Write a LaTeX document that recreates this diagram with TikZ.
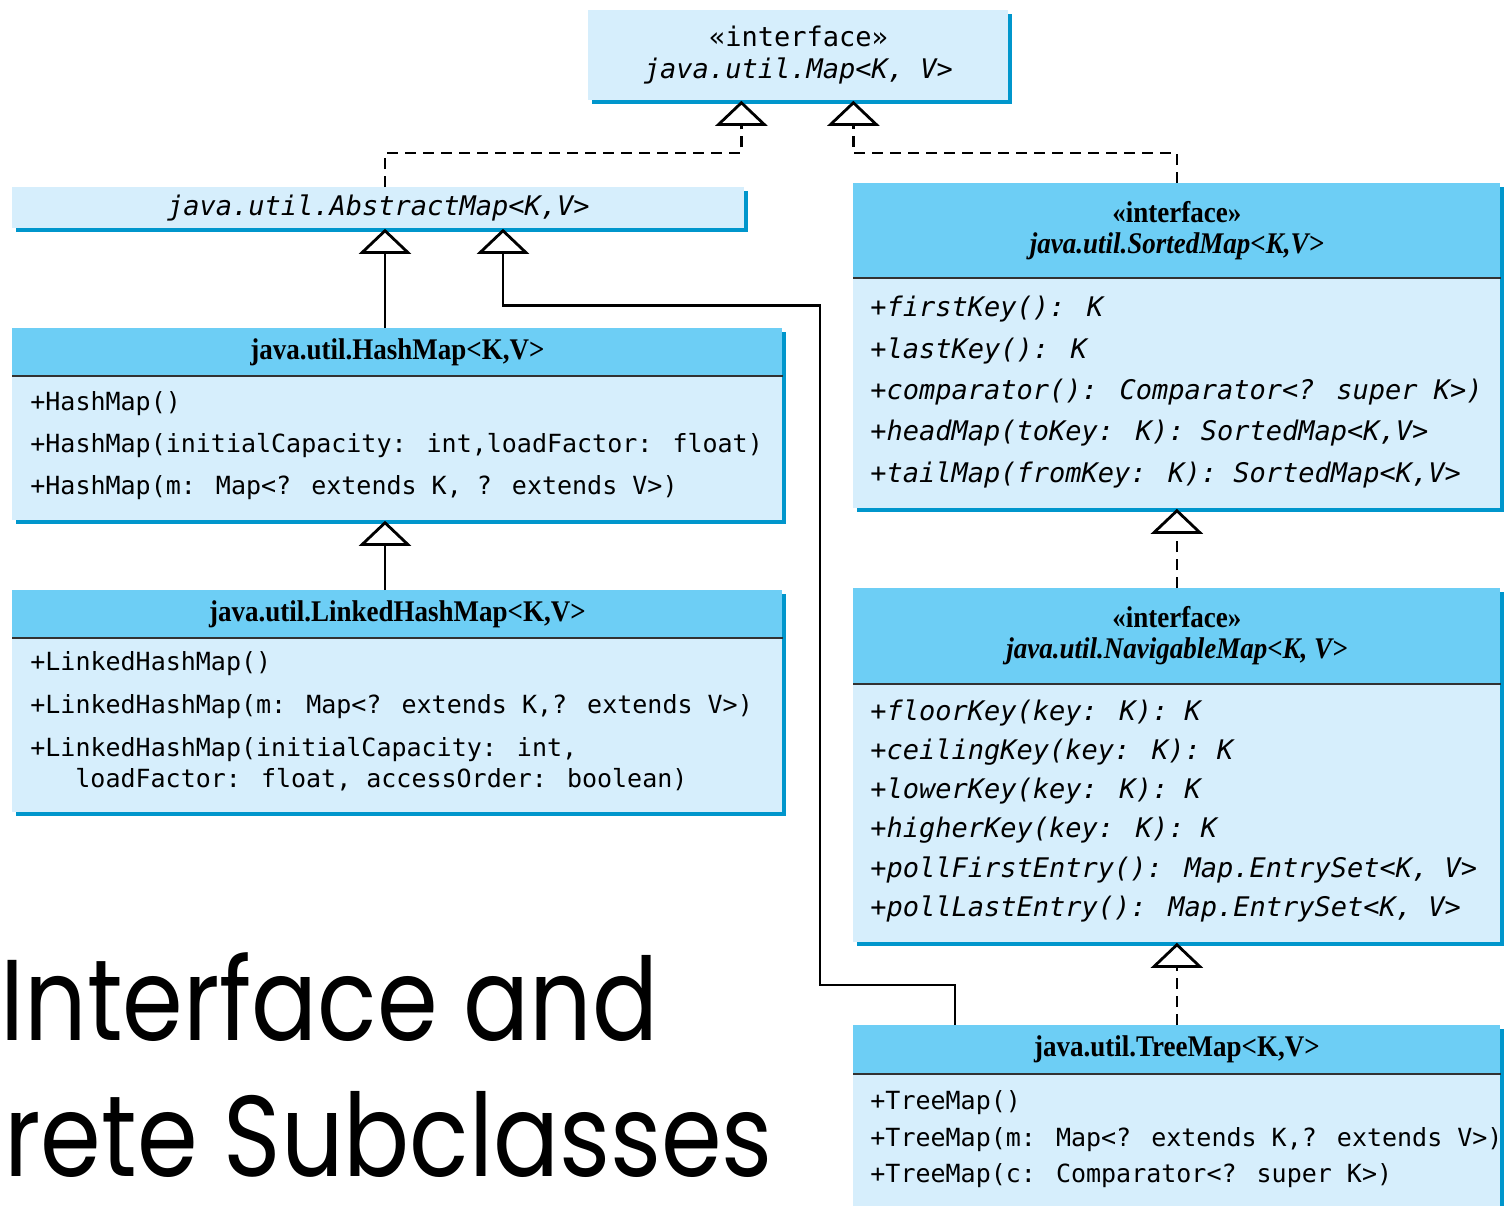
\documentclass[tikz,border=0pt]{standalone}
\usepackage{fontspec}
\setmainfont{Liberation Serif}
\newfontfamily\codefont{DejaVu Sans Mono}
\newfontfamily\headfont[FakeStretch=0.9]{Liberation Serif}
\newfontfamily\titlefont[FakeStretch=0.85]{Poppins}
\usetikzlibrary{arrows.meta,calc,shadows}
\definecolor{bodyblue}{RGB}{214,238,252}
\definecolor{headblue}{RGB}{109,206,245}
\definecolor{edgeblue}{RGB}{0,150,204}
\definecolor{rulegray}{RGB}{50,50,50}

\begin{document}
\begin{tikzpicture}[x=0.5pt,y=-0.5pt,
    classbox/.style={fill=bodyblue,anchor=north west,inner sep=0pt,
        drop shadow={shadow xshift=1.6pt,shadow yshift=-1.6pt,fill=edgeblue,opacity=1}},
    headbox/.style={fill=headblue,anchor=north west,inner sep=0pt,align=center,
        font=\headfont\bfseries\fontsize{15}{15.5}\selectfont},
    divider/.style={draw=rulegray,line width=0.7pt},
    member/.style={anchor=west,inner sep=0pt,font=\codefont\fontsize{12.5}{15}\selectfont},
    imember/.style={anchor=west,inner sep=0pt,font=\codefont\itshape\fontsize{13.5}{16}\selectfont},
    titletext/.style={anchor=base west,inner sep=0pt,text depth=0pt,
        font=\titlefont\fontsize{57.5}{60}\selectfont},
    extend/.style={line width=1.4pt,-{Triangle[open,width=26pt,length=12.5pt]}},
    implement/.style={extend,dash pattern=on 5.5pt off 3.5pt}]
    \useasboundingbox[fill=white] (0,0) rectangle (1504,1205);

    \node[classbox,minimum width=210pt,minimum height=45pt,align=center,
        font=\codefont\fontsize{13.5}{16}\selectfont] (map) at (588,10)
        {«interface»\\\textit{java.util.Map<K, V>}};

    \node[classbox,minimum width=366pt,minimum height=20.5pt,
        font=\codefont\itshape\fontsize{13.5}{16}\selectfont] (abstract) at (12,187)
        {java.util.AbstractMap<K,V>};

    \node[classbox,minimum width=385pt,minimum height=96pt] (hash) at (12,328) {};
    \node[headbox,minimum width=385pt,minimum height=23.5pt] (hashhead) at (hash.north west)
        {java.util.HashMap<K,V>};
    \draw[divider] (hashhead.south west) -- (hashhead.south east);
    \foreach \t [count=\i] in {{+HashMap()},
            {+HashMap(initialCapacity: int,loadFactor: float)},
            {+HashMap(m: Map<? extends K, ? extends V>)}}
        \node[member] (hm\i) at (30,{404+42*(\i-1)}) {\t};

    \node[classbox,minimum width=385pt,minimum height=111pt] (linked) at (12,590) {};
    \node[headbox,minimum width=385pt,minimum height=23.5pt] (linkedhead) at (linked.north west)
        {java.util.LinkedHashMap<K,V>};
    \draw[divider] (linkedhead.south west) -- (linkedhead.south east);
    \foreach \t [count=\i] in {{+LinkedHashMap()},
            {+LinkedHashMap(m: Map<? extends K,? extends V>)},
            {+LinkedHashMap(initialCapacity: int,}}
        \node[member] (lm\i) at (30,{664+43*(\i-1)}) {\t};
    \node[member] (lm4) at (75,780) {loadFactor: float, accessOrder: boolean)};

    \node[classbox,minimum width=323.5pt,minimum height=162.5pt] (sorted) at (853,183) {};
    \node[headbox,minimum width=323.5pt,minimum height=47pt] (sortedhead) at (sorted.north west)
        {«interface»\\\textit{java.util.SortedMap<K,V>}};
    \draw[divider] (sortedhead.south west) -- (sortedhead.south east);
    \foreach \t [count=\i] in {{+firstKey(): K},{+lastKey(): K},
            {+comparator(): Comparator<? super K>)},
            {+headMap(toKey: K): SortedMap<K,V>},
            {+tailMap(fromKey: K): SortedMap<K,V>}}
        \node[imember] (sm\i) at (870,{309+41.5*(\i-1)}) {\t};

    \node[classbox,minimum width=323.5pt,minimum height=177pt] (nav) at (853,588) {};
    \node[headbox,minimum width=323.5pt,minimum height=47.5pt] (navhead) at (nav.north west)
        {«interface»\\\textit{java.util.NavigableMap<K, V>}};
    \draw[divider] (navhead.south west) -- (navhead.south east);
    \foreach \t [count=\i] in {{+floorKey(key: K): K},{+ceilingKey(key: K): K},
            {+lowerKey(key: K): K},{+higherKey(key: K): K},
            {+pollFirstEntry(): Map.EntrySet<K, V>},
            {+pollLastEntry(): Map.EntrySet<K, V>}}
        \node[imember] (nm\i) at (870,{713+39.2*(\i-1)}) {\t};

    \node[classbox,minimum width=323.5pt,minimum height=100pt] (tree) at (853,1025) {};
    \node[headbox,minimum width=323.5pt,minimum height=24pt] (treehead) at (tree.north west)
        {java.util.TreeMap<K,V>};
    \draw[divider] (treehead.south west) -- (treehead.south east);
    \foreach \t [count=\i] in {{+TreeMap()},
            {+TreeMap(m: Map<? extends K,? extends V>)},
            {+TreeMap(c: Comparator<? super K>)}}
        \node[member] (tm\i) at (870,{1103+36.5*(\i-1)}) {\t};

    \node[titletext] (title1) at (0,1040) {Interface and};
    \node[titletext] (title2) at (4,1176) {rete Subclasses};

    \coordinate (mapL) at ($(map.south)+(-57,0)$);
    \coordinate (mapR) at ($(map.south)+(55,0)$);
    \coordinate (absL) at ($(abstract.south west)+(373,0)$);
    \coordinate (absR) at ($(abstract.south west)+(491,0)$);
    \coordinate (treeL) at ($(tree.north west)+(102,0)$);

    \draw[implement] (absL |- abstract.north) -- ++(0,-34) -| (mapL);
    \draw[implement] (sorted.north) -- ++(0,-30) -| (mapR);
    \draw[extend] (absL |- hash.north) -- (absL);
    \draw[extend] (treeL) -- ++(0,-40) -- ++(-135,0) |- ($(absR)+(0,77)$) -- (absR);
    \draw[extend] (absL |- linked.north) -- (absL |- hash.south);
    \draw[implement] (nav.north) -- (sorted.south);
    \draw[implement] (tree.north) -- (nav.south);
\end{tikzpicture}
\end{document}
